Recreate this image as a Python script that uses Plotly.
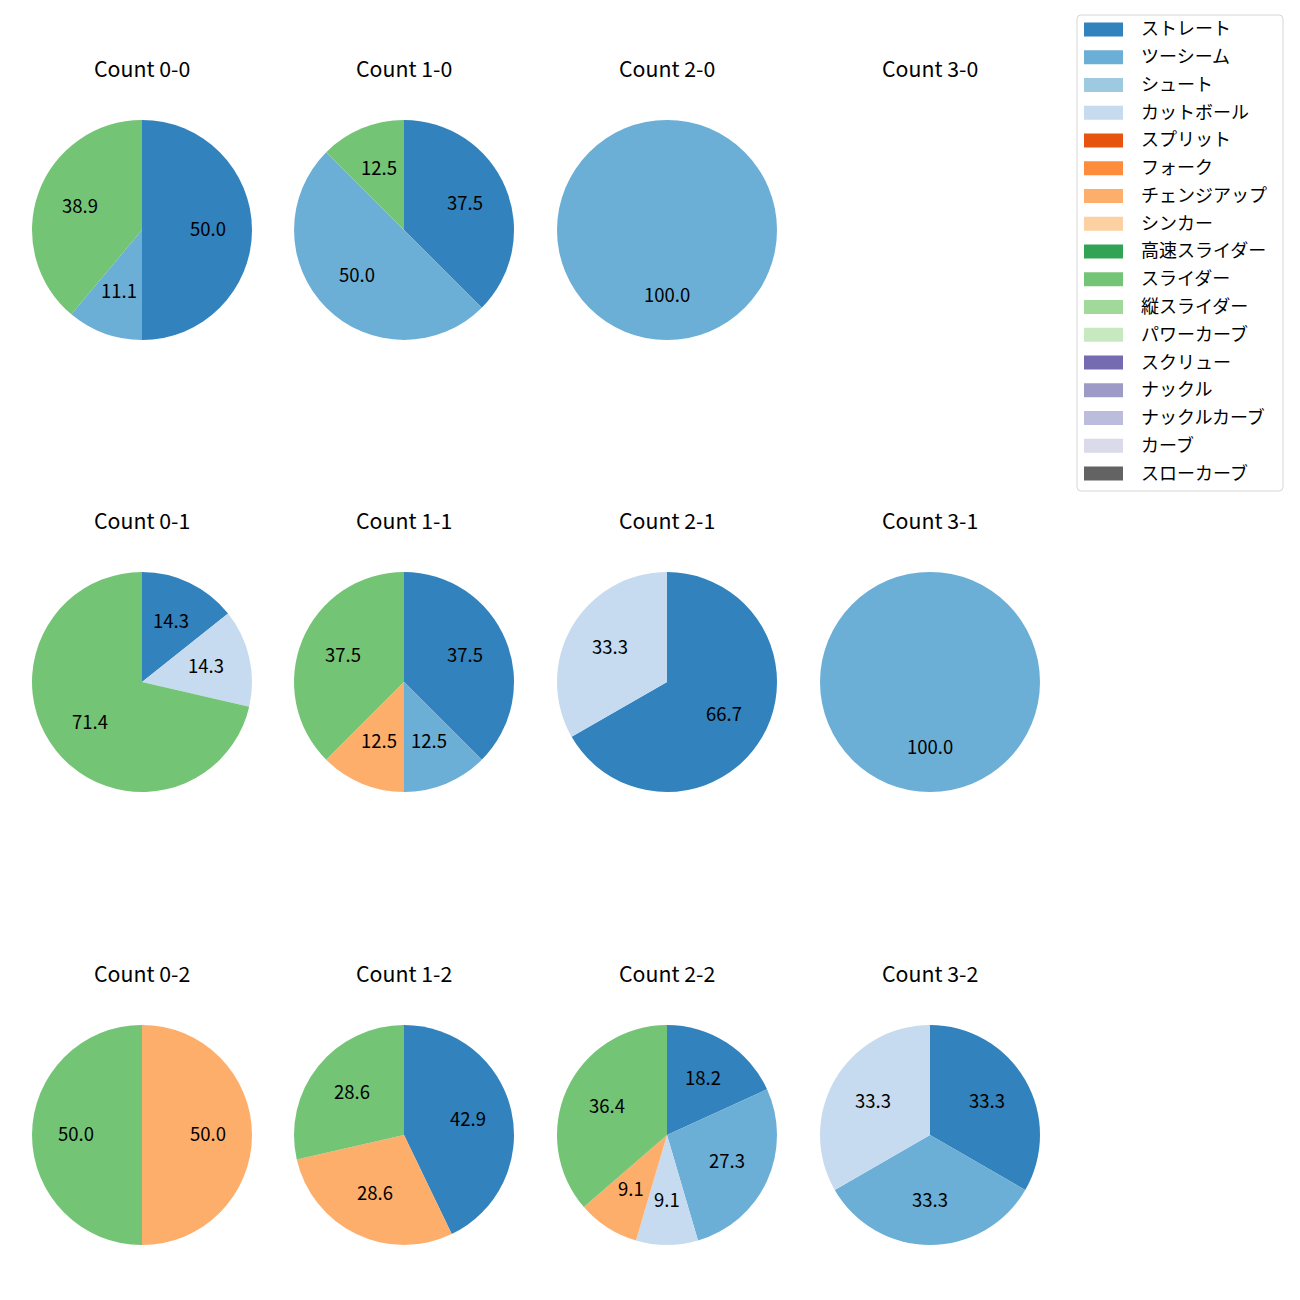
import math
import plotly.graph_objects as go

categories = ["ストレート", "ツーシーム", "シュート", "カットボール", "スプリット", "フォーク",
              "チェンジアップ", "シンカー", "高速スライダー", "スライダー", "縦スライダー",
              "パワーカーブ", "スクリュー", "ナックル", "ナックルカーブ", "カーブ", "スローカーブ"]
colors = ["#3182bd", "#6baed6", "#9ecae1", "#c6dbef", "#e6550d", "#fd8d3c", "#fdae6b",
          "#fdd0a2", "#31a354", "#74c476", "#a1d99b", "#c7e9c0", "#756bb1", "#9e9ac8",
          "#bcbddc", "#dadaeb", "#636363"]

balls = [0, 1, 2, 3]
strikes = [0, 1, 2]

# percentages per count (balls-strikes), keyed by pitch type
count_0_0 = {"ストレート": 50.0, "ツーシーム": 11.1, "スライダー": 38.9}
count_1_0 = {"ストレート": 37.5, "ツーシーム": 50.0, "スライダー": 12.5}
count_2_0 = {"ツーシーム": 100.0}
count_3_0 = {}
count_0_1 = {"ストレート": 14.3, "カットボール": 14.3, "スライダー": 71.4}
count_1_1 = {"ストレート": 37.5, "ツーシーム": 12.5, "チェンジアップ": 12.5, "スライダー": 37.5}
count_2_1 = {"ストレート": 66.7, "カットボール": 33.3}
count_3_1 = {"ツーシーム": 100.0}
count_0_2 = {"チェンジアップ": 50.0, "スライダー": 50.0}
count_1_2 = {"ストレート": 42.9, "チェンジアップ": 28.6, "スライダー": 28.6}
count_2_2 = {"ストレート": 18.2, "ツーシーム": 27.3, "カットボール": 9.1, "チェンジアップ": 9.1, "スライダー": 36.4}
count_3_2 = {"ストレート": 33.3, "ツーシーム": 33.3, "カットボール": 33.3}

data = {
    (0, 0): count_0_0, (1, 0): count_1_0, (2, 0): count_2_0, (3, 0): count_3_0,
    (0, 1): count_0_1, (1, 1): count_1_1, (2, 1): count_2_1, (3, 1): count_3_1,
    (0, 2): count_0_2, (1, 2): count_1_2, (2, 2): count_2_2, (3, 2): count_3_2,
}

W = H = 1300
OFF = 8  # page body margin
col_cx = [142, 404, 667, 930]
row_cy = [230, 682, 1135]
R = 110
title_y = [69, 521, 974]
FONT = "Noto Sans CJK JP"
cmap = dict(zip(categories, colors))


def px(x):
    return (x - OFF) / W


def py(y):
    return 1 - (y - OFF) / H


fig = go.Figure()
annotations = []
shapes = []

for (b, s), d in data.items():
    cx, cy = col_cx[b], row_cy[s]
    annotations.append(dict(x=px(cx), y=py(title_y[s]), xref="paper", yref="paper",
                            text=f"Count {b}-{s}", showarrow=False, yshift=2,
                            font=dict(family=FONT, size=21.3, color="black"),
                            xanchor="center", yanchor="middle"))
    labels = [c for c in categories if c in d]
    vals = [d[c] for c in labels]
    if not vals:
        continue
    fig.add_trace(go.Pie(
        labels=labels, values=vals, sort=False, direction="clockwise", rotation=0,
        marker=dict(colors=[cmap[c] for c in labels], line=dict(width=0)),
        textinfo="none", hoverinfo="label+percent", showlegend=False,
        domain=dict(x=[px(cx - R), px(cx + R)], y=[py(cy + R), py(cy - R)]),
    ))
    total = sum(vals)
    cum = 0.0
    for v in vals:
        mid = cum + v / 2
        cum += v
        ang = math.radians(90 - mid / total * 360)
        lx = cx + 0.6 * R * math.cos(ang)
        ly = cy - 0.6 * R * math.sin(ang)
        annotations.append(dict(x=px(lx), y=py(ly), xref="paper", yref="paper",
                                text=f"{v / total * 100:.1f}", showarrow=False, yshift=2.5,
                                font=dict(family=FONT, size=18.5, color="black"),
                                xanchor="center", yanchor="middle"))

# legend (drawn in paper space, one entry per category)
lx0, lx1, ly0, ly1 = 1077, 1283, 15, 491
rr = 4
path = (f"M {px(lx0 + rr)} {py(ly0)} L {px(lx1 - rr)} {py(ly0)} "
        f"Q {px(lx1)} {py(ly0)} {px(lx1)} {py(ly0 + rr)} L {px(lx1)} {py(ly1 - rr)} "
        f"Q {px(lx1)} {py(ly1)} {px(lx1 - rr)} {py(ly1)} L {px(lx0 + rr)} {py(ly1)} "
        f"Q {px(lx0)} {py(ly1)} {px(lx0)} {py(ly1 - rr)} L {px(lx0)} {py(ly0 + rr)} "
        f"Q {px(lx0)} {py(ly0)} {px(lx0 + rr)} {py(ly0)} Z")
shapes.append(dict(type="path", xref="paper", yref="paper", path=path,
                   line=dict(color="#d6d6d6", width=1), fillcolor="rgba(255,255,255,0.8)"))
first_y, step = 29.5, 27.75
for i, (c, col) in enumerate(zip(categories, colors)):
    yc = first_y + i * step
    shapes.append(dict(type="rect", xref="paper", yref="paper",
                       x0=px(1084), x1=px(1123), y0=py(yc + 7), y1=py(yc - 7),
                       line=dict(width=0), fillcolor=col))
    annotations.append(dict(x=px(1139), y=py(yc), xref="paper", yref="paper",
                            text=c, showarrow=False, xanchor="left", yanchor="middle", yshift=2,
                            font=dict(family=FONT, size=18, color="black")))

fig.update_layout(width=W, height=H, margin=dict(l=0, r=0, t=0, b=0),
                  paper_bgcolor="white", plot_bgcolor="white",
                  annotations=annotations, shapes=shapes, showlegend=False,
                  font=dict(family=FONT))
fig.write_html("out.html")
